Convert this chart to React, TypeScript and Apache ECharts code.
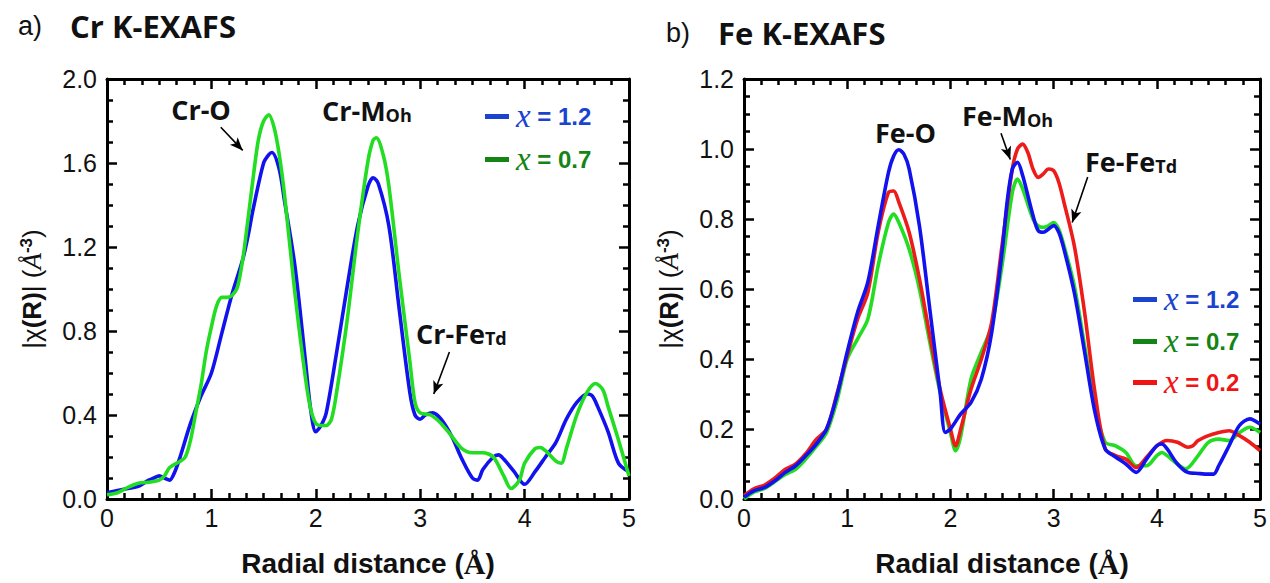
import React, { useEffect, useRef } from 'react';
import * as echarts from 'echarts';

// ---------- Panel a) Cr K-EXAFS ----------
const crX12 = [0,0.1,0.2,0.3,0.4,0.45,0.5,0.55,0.6,0.65,0.7,0.8,0.9,1.0,1.1,1.2,1.3,1.35,1.4,1.5,1.55,1.58,1.65,1.7,1.8,1.9,1.95,2.0,2.05,2.1,2.2,2.3,2.4,2.5,2.55,2.6,2.7,2.8,2.9,2.95,3.0,3.05,3.12,3.2,3.3,3.4,3.5,3.55,3.6,3.7,3.75,3.8,3.9,4.0,4.1,4.2,4.3,4.4,4.5,4.6,4.65,4.7,4.8,4.9,5.0];
const crY12 = [0.03,0.04,0.05,0.06,0.09,0.10,0.11,0.10,0.09,0.13,0.20,0.36,0.49,0.60,0.79,0.98,1.14,1.25,1.38,1.60,1.64,1.65,1.57,1.42,1.11,0.66,0.43,0.32,0.35,0.41,0.70,1.01,1.30,1.49,1.53,1.50,1.30,0.90,0.51,0.40,0.38,0.40,0.41,0.38,0.30,0.19,0.10,0.09,0.14,0.20,0.21,0.19,0.13,0.07,0.13,0.20,0.27,0.38,0.46,0.50,0.49,0.44,0.32,0.17,0.13];
const crX07 = [0,0.1,0.2,0.3,0.4,0.5,0.55,0.6,0.7,0.75,0.8,0.85,0.9,0.95,1.0,1.05,1.1,1.15,1.2,1.25,1.3,1.35,1.4,1.45,1.5,1.55,1.6,1.65,1.7,1.8,1.9,1.95,2.0,2.05,2.1,2.15,2.2,2.3,2.4,2.5,2.55,2.58,2.65,2.7,2.8,2.9,2.95,3.0,3.1,3.2,3.3,3.4,3.5,3.6,3.7,3.8,3.87,3.95,4.0,4.1,4.15,4.2,4.3,4.35,4.4,4.5,4.6,4.68,4.75,4.8,4.9,5.0];
const crY07 = [0.02,0.03,0.055,0.075,0.08,0.09,0.11,0.15,0.18,0.20,0.28,0.41,0.54,0.70,0.82,0.92,0.96,0.96,0.97,1.01,1.14,1.33,1.53,1.71,1.80,1.83,1.77,1.64,1.45,0.98,0.58,0.43,0.36,0.35,0.35,0.38,0.51,0.85,1.26,1.61,1.71,1.72,1.63,1.49,1.06,0.66,0.46,0.41,0.40,0.36,0.30,0.24,0.22,0.22,0.20,0.11,0.05,0.09,0.17,0.24,0.245,0.23,0.18,0.17,0.24,0.40,0.51,0.55,0.52,0.44,0.28,0.11];

// ---------- Panel b) Fe K-EXAFS ----------
const feX12 = [0,0.1,0.2,0.3,0.4,0.5,0.6,0.7,0.8,0.9,1.0,1.1,1.2,1.3,1.4,1.45,1.5,1.55,1.6,1.7,1.8,1.9,1.95,2.0,2.1,2.2,2.3,2.4,2.5,2.55,2.6,2.65,2.7,2.8,2.85,2.9,2.95,3.0,3.05,3.1,3.2,3.3,3.4,3.5,3.6,3.7,3.8,3.9,4.0,4.05,4.1,4.2,4.3,4.4,4.5,4.55,4.6,4.7,4.8,4.9,5.0];
const feY12 = [0.005,0.024,0.033,0.052,0.076,0.095,0.124,0.157,0.2,0.295,0.42,0.533,0.62,0.78,0.933,0.98,0.998,0.985,0.943,0.78,0.543,0.305,0.19,0.2,0.243,0.276,0.343,0.476,0.705,0.85,0.943,0.962,0.924,0.81,0.767,0.762,0.771,0.781,0.762,0.714,0.59,0.42,0.248,0.143,0.12,0.1,0.076,0.114,0.152,0.157,0.143,0.1,0.076,0.073,0.071,0.071,0.095,0.152,0.21,0.229,0.214];
const feX07 = [0,0.1,0.2,0.3,0.4,0.5,0.6,0.7,0.8,0.9,1.0,1.1,1.2,1.3,1.4,1.45,1.5,1.6,1.7,1.8,1.9,2.0,2.05,2.1,2.2,2.3,2.4,2.5,2.6,2.65,2.7,2.8,2.85,2.9,2.95,3.0,3.05,3.1,3.2,3.3,3.4,3.5,3.6,3.7,3.8,3.9,4.0,4.05,4.1,4.2,4.28,4.4,4.5,4.6,4.7,4.8,4.9,5.0];
const feY07 = [0.0,0.02,0.03,0.05,0.07,0.085,0.115,0.15,0.19,0.28,0.40,0.457,0.514,0.667,0.79,0.814,0.79,0.714,0.6,0.448,0.305,0.19,0.138,0.18,0.343,0.42,0.495,0.667,0.876,0.914,0.886,0.8,0.78,0.776,0.781,0.79,0.771,0.724,0.61,0.438,0.267,0.162,0.152,0.133,0.095,0.095,0.124,0.133,0.124,0.1,0.086,0.124,0.162,0.171,0.167,0.19,0.205,0.19];
const feX02 = [0,0.1,0.2,0.3,0.4,0.5,0.6,0.7,0.8,0.9,1.0,1.1,1.2,1.3,1.4,1.45,1.5,1.6,1.7,1.8,1.9,2.0,2.05,2.1,2.2,2.3,2.4,2.5,2.6,2.65,2.7,2.75,2.8,2.85,2.9,2.95,3.0,3.05,3.1,3.2,3.3,3.4,3.5,3.6,3.7,3.8,3.9,4.0,4.1,4.2,4.3,4.35,4.4,4.5,4.6,4.7,4.8,4.9,5.0];
const feY02 = [0.01,0.03,0.04,0.06,0.085,0.1,0.13,0.17,0.2,0.3,0.41,0.514,0.59,0.762,0.876,0.88,0.848,0.762,0.629,0.467,0.314,0.2,0.152,0.2,0.314,0.4,0.505,0.724,0.943,1.0,1.014,0.99,0.943,0.919,0.929,0.943,0.938,0.905,0.848,0.724,0.533,0.305,0.143,0.124,0.114,0.09,0.119,0.152,0.167,0.162,0.148,0.152,0.167,0.181,0.19,0.195,0.181,0.162,0.138];

const legendLabels = ['1.2', '0.7', '0.2'];
const xTicks = { min: 0, max: 5, interval: 1 };
const yTicksA = { min: 0, max: 2.0, interval: 0.4 };
const yTicksB = { min: 0, max: 1.2, interval: 0.2 };
const X_MINOR_SPLIT = 6;
const Y_MINOR_SPLIT = 4;

const BLUE = '#1212ee';
const GREEN = '#22dd22';
const RED = '#ee1b1b';
const LEG_BLUE = '#1a44d0';
const LEG_GREEN = '#148414';
const LEG_RED = '#f01414';

const pairs = (xs: number[], ys: number[]) => xs.map((x, i) => [x, ys[i]]);

const mkLine = () => ({ show: true, onZero: false, lineStyle: { color: '#000', width: 3 } });
const mkTick = () => ({ show: true, inside: true, length: 10, lineStyle: { color: '#000', width: 2.5 } });
const mkMinor = (n: number) => ({ show: true, splitNumber: n, length: 6, lineStyle: { color: '#000', width: 2.5 } });

function makeX(grid: number) {
  const base = () => ({
    gridIndex: grid, type: 'value', ...xTicks,
    axisLine: mkLine(),
    axisTick: mkTick(),
    minorTick: mkMinor(X_MINOR_SPLIT),
    splitLine: { show: false },
    minorSplitLine: { show: false },
  });
  return [
    {
      ...base(), position: 'bottom',
      axisLabel: { show: true, fontFamily: 'Liberation Sans', fontSize: 25, color: '#111', margin: 6 },
      name: 'Radial distance {p|(}{s|Å}{p|)}', nameLocation: 'middle', nameGap: 49,
      nameTextStyle: {
        fontFamily: 'Liberation Sans', fontWeight: 'bold', fontSize: 28, color: '#111',
        rich: {
          p: { fontFamily: 'Liberation Sans', fontWeight: 'bold', fontSize: 28, color: '#111' },
          s: { fontFamily: 'Liberation Serif', fontWeight: 'bold', fontSize: 30, color: '#111' },
        },
      },
    },
    { ...base(), position: 'top', axisLabel: { show: false } },
  ];
}

const yName = '{n||χ}{b|(R)}{n|| (}{s|Å}{sup|-3}{n|)}';
const yNameStyle = {
  fontFamily: 'Liberation Sans', fontSize: 26, color: '#111',
  rich: {
    n: { fontFamily: 'Liberation Sans', fontSize: 26, color: '#111' },
    b: { fontFamily: 'Liberation Sans', fontWeight: 'bold', fontSize: 26, color: '#111' },
    s: { fontFamily: 'Liberation Serif', fontStyle: 'italic', fontSize: 27, color: '#111' },
    sup: { fontFamily: 'Liberation Sans', fontWeight: 'bold', fontSize: 17, color: '#111', verticalAlign: 'top' },
  },
};

function makeY(grid: number, ticks: any) {
  const base = () => ({
    gridIndex: grid, type: 'value', ...ticks,
    axisLine: mkLine(),
    axisTick: mkTick(),
    minorTick: mkMinor(Y_MINOR_SPLIT),
    splitLine: { show: false },
    minorSplitLine: { show: false },
  });
  return [
    {
      ...base(), position: 'left',
      axisLabel: { show: true, fontFamily: 'Liberation Sans', fontSize: 25, color: '#111', margin: 10, formatter: (v: number) => v.toFixed(1) },
      name: yName, nameLocation: 'middle', nameGap: 62, nameTextStyle: yNameStyle,
    },
    { ...base(), position: 'right', axisLabel: { show: false } },
  ];
}

const arrowLine = (segs: number[][][]) => ({
  silent: true,
  symbol: ['none', 'arrow'],
  symbolSize: [8, 13],
  label: { show: false },
  lineStyle: { color: '#000', width: 1.6, type: 'solid' },
  data: segs.map(([a, b]) => [{ coord: a }, { coord: b }]),
});

const line = (name: string, xi: number, yi: number, data: number[][], color: string, extra: any = {}) => ({
  name, type: 'line', xAxisIndex: xi, yAxisIndex: yi, data,
  showSymbol: false, symbol: 'none', smooth: 0.3, z: 3,
  lineStyle: { color, width: 3.6 }, itemStyle: { color },
  ...extra,
});

const annFont = { fontFamily: 'Open Sans', fontWeight: 'bold', fontSize: 27, fill: '#111' };
const subRich = { sub: { fontFamily: 'Open Sans', fontWeight: 'bold', fontSize: 18, fill: '#111', color: '#111', verticalAlign: 'bottom' } };
const ann = (text: string, x: number, y: number, align = 'left') => ({
  type: 'text', x, y, z: 100,
  style: { text, ...annFont, align, verticalAlign: 'middle', rich: subRich },
});

const legendItem = (x: number, y: number, label: string, lineColor: string, textColor: string) => [
  { type: 'rect', shape: { x, y: y - 2, width: 24, height: 5 }, style: { fill: lineColor }, z: 100 },
  {
    type: 'text', x: x + 31, y, z: 100,
    style: {
      text: `{x|x}{t| = ${label}}`, verticalAlign: 'middle',
      rich: {
        x: { fontFamily: 'Liberation Serif', fontStyle: 'italic', fontSize: 33, fill: textColor, color: textColor },
        t: { fontFamily: 'Liberation Sans', fontWeight: 'bold', fontSize: 24, fill: textColor, color: textColor },
      },
    },
  },
];

const option: any = {
  animation: false,
  backgroundColor: '#fff',
  grid: [
    { left: 107, top: 79, width: 522, height: 423 },
    { left: 744, top: 79, width: 523, height: 423 },
  ],
  xAxis: [...makeX(0), ...makeX(1)],
  yAxis: [...makeY(0, yTicksA), ...makeY(1, yTicksB)],
  series: [
    line('a x=1.2', 0, 0, pairs(crX12, crY12), BLUE, {
      markLine: arrowLine([
        [[1.09, 1.77], [1.30, 1.66]],
        [[3.28, 0.70], [3.13, 0.50]],
      ]),
    }),
    line('a x=0.7', 0, 0, pairs(crX07, crY07), GREEN),
    line('b x=0.7', 2, 2, pairs(feX07, feY07), GREEN),
    line('b x=0.2', 2, 2, pairs(feX02, feY02), RED),
    line('b x=1.2', 2, 2, pairs(feX12, feY12), BLUE, {
      markLine: arrowLine([
        [[2.49, 1.045], [2.58, 0.97]],
        [[3.33, 0.92], [3.18, 0.79]],
      ]),
    }),
  ],
  graphic: [
    { type: 'text', x: 18, y: 26, style: { text: 'a)', fontFamily: 'Liberation Sans', fontSize: 27, fill: '#111', verticalAlign: 'middle' } },
    { type: 'text', x: 70, y: 26, style: { text: 'Cr K-EXAFS', fontFamily: 'Open Sans', fontWeight: 'bold', fontSize: 31, fill: '#111', verticalAlign: 'middle' } },
    { type: 'text', x: 666, y: 33, style: { text: 'b)', fontFamily: 'Liberation Sans', fontSize: 27, fill: '#111', verticalAlign: 'middle' } },
    { type: 'text', x: 718, y: 33, style: { text: 'Fe K-EXAFS', fontFamily: 'Open Sans', fontWeight: 'bold', fontSize: 31, fill: '#111', verticalAlign: 'middle' } },
    ann('Cr-O', 201, 109, 'center'),
    ann('Cr-M{sub|Oh}', 322, 110),
    ann('Cr-Fe{sub|Td}', 416, 333),
    ann('Fe-O', 875, 132),
    ann('Fe-M{sub|Oh}', 962, 115),
    ann('Fe-Fe{sub|Td}', 1085, 161),
    ...legendItem(485, 116, legendLabels[0], LEG_BLUE, LEG_BLUE),
    ...legendItem(485, 159, legendLabels[1], LEG_GREEN, LEG_GREEN),
    ...legendItem(1133, 299, legendLabels[0], LEG_BLUE, LEG_BLUE),
    ...legendItem(1133, 341, legendLabels[1], LEG_GREEN, LEG_GREEN),
    ...legendItem(1133, 382, legendLabels[2], LEG_RED, LEG_RED),
  ],
};

export default function App() {
  const ref = useRef<HTMLDivElement>(null);
  useEffect(() => {
    const chart = echarts.init(ref.current!, null, { renderer: 'svg' });
    chart.setOption(option);
    return () => chart.dispose();
  }, []);
  return (
    <div
      ref={ref}
      style={{ position: 'fixed', left: 0, top: 0, width: 1270, height: 583, background: '#fff' }}
    />
  );
}
